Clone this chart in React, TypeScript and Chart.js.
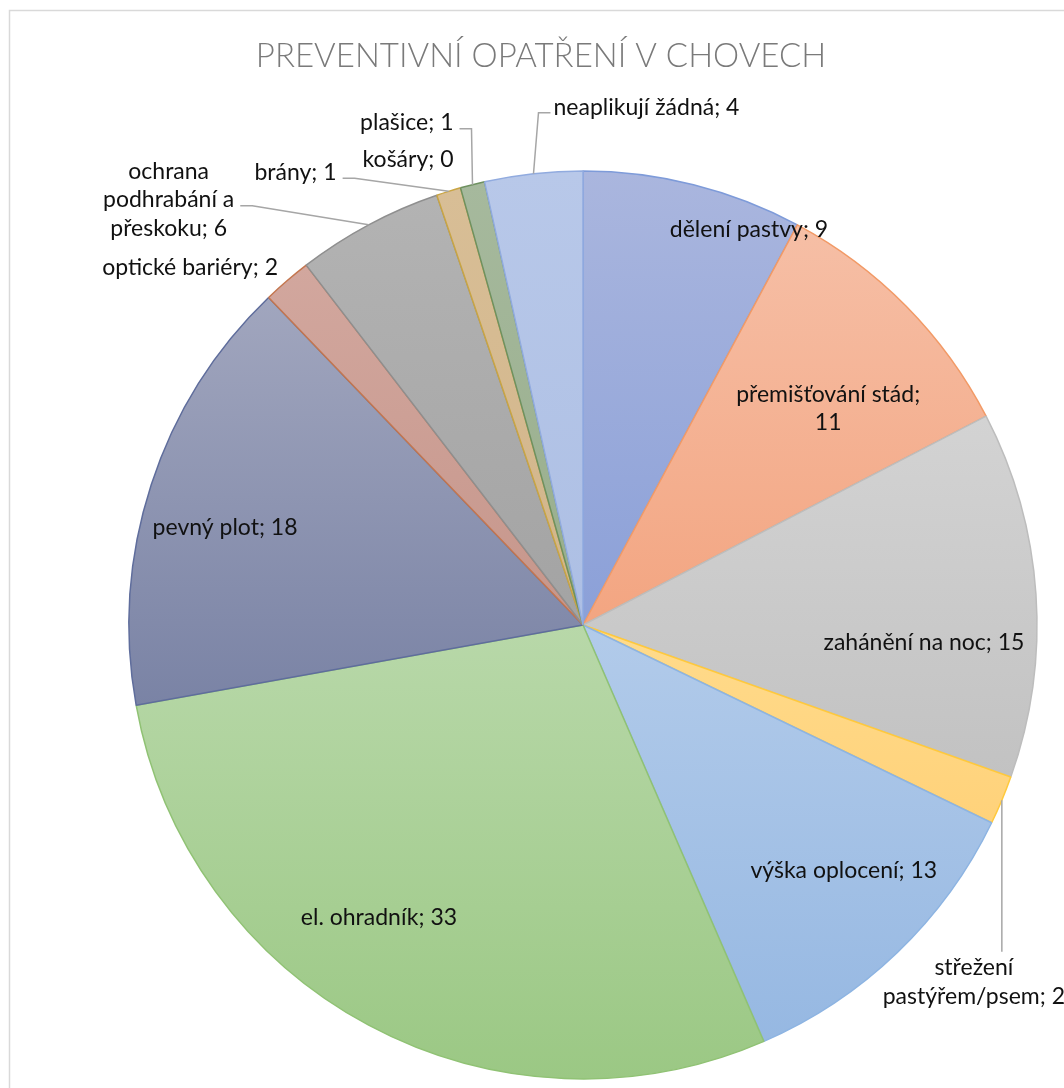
import React, { useEffect, useRef } from "react";
import { Chart, registerables } from "chart.js";

Chart.register(...registerables);

const TITLE = "PREVENTIVNÍ OPATŘENÍ V CHOVECH";

const categories = [
  "dělení pastvy",
  "přemišťování stád",
  "zahánění na noc",
  "střežení pastýřem/psem",
  "výška oplocení",
  "el. ohradník",
  "pevný plot",
  "optické bariéry",
  "ochrana podhrabání a přeskoku",
  "brány",
  "košáry",
  "plašice",
  "neaplikují žádná",
];

const values = [9, 11, 15, 2, 13, 33, 18, 2, 6, 1, 0, 1, 4];

const topColors = [
  "#AAB6DE", "#F6BFA6", "#D3D3D3", "#FFDB8C", "#B2CBEA", "#B8D8A9", "#A1A6BE",
  "#D2A79E", "#B3B3B3", "#D8BE96", "#8FA8DA", "#A6B99D", "#B8C8E9",
];
const bottomColors = [
  "#8BA0D8", "#F3A581", "#C2C2C2", "#FFD27A", "#96B8E2", "#9BC884", "#7A83A5",
  "#C6968B", "#A3A3A3", "#D2B58A", "#8FA8DA", "#98AE8C", "#ADBFE4",
];
const borderColors = [
  "#7E9BD9", "#F29A66", "#BDBDBD", "#FFC93C", "#8DB4E2", "#90C274", "#5F6D9C",
  "#C4764F", "#8F8F8F", "#C9A544", "#7E9BD9", "#6E9160", "#91ABDF",
];

type Placement =
  | { mode: "in"; r: number; da: number; wrap?: number }
  | {
      mode: "out";
      dx: number;
      dy: number;
      align: "left" | "right" | "center";
      leader: "left" | "right" | "down" | "none";
      wrap?: number;
    };

const labelPlacement: Placement[] = [
  { mode: "in", r: 0.944, da: 8.7 },
  { mode: "in", r: 0.72, da: 3.2, wrap: 205 },
  { mode: "in", r: 0.752, da: 6.9 },
  { mode: "out", dx: -28, dy: 182, align: "center", leader: "down", wrap: 200 },
  { mode: "in", r: 0.789, da: -2.9 },
  { mode: "in", r: 0.786, da: 6.7 },
  { mode: "in", r: 0.817, da: -2.8 },
  { mode: "out", dx: -9, dy: -13, align: "right", leader: "none" },
  { mode: "out", dx: -200, dy: -25, align: "center", leader: "right", wrap: 150 },
  { mode: "out", dx: -112, dy: -19, align: "right", leader: "right" },
  { mode: "out", dx: -7, dy: -28, align: "right", leader: "none" },
  { mode: "out", dx: -19, dy: -62, align: "right", leader: "right" },
  { mode: "out", dx: 20, dy: -66, align: "left", leader: "left" },
];

const LABEL_FONT = "23px Lato";
const LINE_H = 28.5;

function wrapText(ctx: CanvasRenderingContext2D, text: string, maxW?: number): string[] {
  if (!maxW) return [text];
  const words = text.split(" ");
  const lines: string[] = [];
  let cur = "";
  for (const w of words) {
    const t = cur ? cur + " " + w : w;
    if (cur && ctx.measureText(t).width > maxW) {
      lines.push(cur);
      cur = w;
    } else cur = t;
  }
  if (cur) lines.push(cur);
  return lines;
}

function norm(a: number) {
  const t = Math.PI * 2;
  return ((a % t) + t) % t;
}
function contains(start: number, end: number, a: number) {
  const s = norm(start);
  const span = end - start;
  const d = norm(a - s);
  return d <= span;
}

const gradientPlugin = {
  id: "sliceGradient",
  beforeDatasetsDraw(chart: any) {
    const ctx = chart.ctx as CanvasRenderingContext2D;
    const meta = chart.getDatasetMeta(0);
    meta.data.forEach((arc: any, i: number) => {
      const { y, startAngle, endAngle, outerRadius } = arc.getProps(
        ["x", "y", "startAngle", "endAngle", "outerRadius"],
        true
      );
      const ys = [y, y + outerRadius * Math.sin(startAngle), y + outerRadius * Math.sin(endAngle)];
      if (contains(startAngle, endAngle, -Math.PI / 2)) ys.push(y - outerRadius);
      if (contains(startAngle, endAngle, Math.PI / 2)) ys.push(y + outerRadius);
      const y0 = Math.min(...ys);
      let y1 = Math.max(...ys);
      if (y1 - y0 < 1) y1 = y0 + 1;
      const g = ctx.createLinearGradient(0, y0, 0, y1);
      g.addColorStop(0, topColors[i]);
      g.addColorStop(1, bottomColors[i]);
      arc.options = Object.assign({}, arc.options, { backgroundColor: g });
    });
  },
};

const decorPlugin = {
  id: "decor",
  beforeDraw(chart: any) {
    const ctx = chart.ctx as CanvasRenderingContext2D;
    ctx.save();
    ctx.fillStyle = "#ffffff";
    ctx.fillRect(0, 0, chart.width, chart.height);
    ctx.strokeStyle = "#D9D9D9";
    ctx.lineWidth = 1.5;
    ctx.strokeRect(9.5, 10.5, chart.width + 20, chart.height + 20);
    ctx.fillStyle = "#7A7A7A";
    ctx.font = "300 33px Lato";
    ctx.textAlign = "center";
    ctx.textBaseline = "middle";
    ctx.fillText(TITLE, 541, 56);
    ctx.restore();
  },
  afterDatasetsDraw(chart: any) {
    const ctx = chart.ctx as CanvasRenderingContext2D;
    const meta = chart.getDatasetMeta(0);
    ctx.save();
    ctx.font = LABEL_FONT;
    ctx.textBaseline = "middle";
    meta.data.forEach((arc: any, i: number) => {
      const { x, y, startAngle, endAngle, outerRadius } = arc.getProps(
        ["x", "y", "startAngle", "endAngle", "outerRadius"],
        true
      );
      const mid = (startAngle + endAngle) / 2;
      const pl = labelPlacement[i];
      const text = `${categories[i]}; ${values[i]}`;
      const lines = wrapText(ctx, text, pl.wrap);
      const widths = lines.map((l) => ctx.measureText(l).width);
      const maxW = Math.max(...widths);
      let ax: number, ay: number;
      let align: CanvasTextAlign = "center";
      if (pl.mode === "in") {
        const a = mid + (pl.da * Math.PI) / 180;
        ax = x + pl.r * outerRadius * Math.cos(a);
        ay = y + pl.r * outerRadius * Math.sin(a);
      } else {
        const px = x + outerRadius * Math.cos(mid);
        const py = y + outerRadius * Math.sin(mid);
        ax = px + pl.dx;
        ay = py + pl.dy;
        align = pl.align;
        let left = ax, right = ax;
        if (align === "left") right = ax + maxW;
        else if (align === "right") left = ax - maxW;
        else {
          left = ax - maxW / 2;
          right = ax + maxW / 2;
        }
        const top = ay - (lines.length * LINE_H) / 2;
        ctx.strokeStyle = "#A6A6A6";
        ctx.lineWidth = 1.5;
        ctx.beginPath();
        if (pl.leader === "left") {
          ctx.moveTo(px, py);
          ctx.lineTo(left - 15, ay + 5);
          ctx.lineTo(left - 3, ay + 5);
          ctx.stroke();
        } else if (pl.leader === "right") {
          ctx.moveTo(right + 6, ay + 6);
          ctx.lineTo(right + 18, ay + 6);
          ctx.lineTo(px, py);
          ctx.stroke();
        } else if (pl.leader === "down") {
          ctx.moveTo(px, py);
          ctx.lineTo(px, top - 2);
          ctx.stroke();
        }
      }
      ctx.fillStyle = "#111111";
      ctx.textAlign = align;
      const y0 = ay - ((lines.length - 1) * LINE_H) / 2;
      lines.forEach((l, k) => ctx.fillText(l, ax, y0 + k * LINE_H));
    });
    ctx.restore();
  },
};

export default function App() {
  const ref = useRef<HTMLCanvasElement | null>(null);
  useEffect(() => {
    if (!ref.current) return;
    const chart = new Chart(ref.current, {
      type: "pie",
      data: {
        labels: categories,
        datasets: [
          {
            data: values,
            backgroundColor: bottomColors,
            borderColor: borderColors,
            borderWidth: 1.5,
          },
        ],
      },
      options: {
        responsive: false,
        animation: false,
        events: [],
        radius: 454,
        rotation: 0,
        layout: { padding: { left: 102, right: 0, top: 162, bottom: 0 } },
        plugins: {
          legend: { display: false },
          title: { display: false },
          tooltip: { enabled: false },
        },
      } as any,
      plugins: [gradientPlugin, decorPlugin],
    });
    return () => chart.destroy();
  }, []);
  return (
    <div style={{ position: "absolute", left: 0, top: 0, width: 1064, height: 1088 }}>
      <canvas ref={ref} width={1064} height={1088} style={{ width: 1064, height: 1088, display: "block" }} />
    </div>
  );
}
